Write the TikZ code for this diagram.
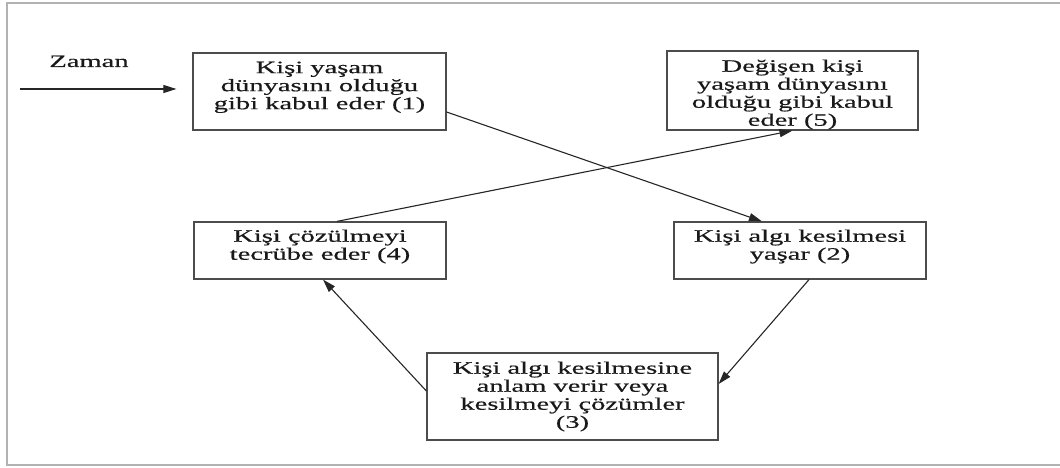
\documentclass[tikz,border=0pt]{standalone}
\usepackage{fontspec}
\setmainfont{Liberation Serif}[FakeStretch=1.63, FakeBold=0.5]
\usetikzlibrary{arrows.meta}

\begin{document}
\begin{tikzpicture}[x=1pt, y=1pt,
    box/.style={draw=black!70, line width=1.2pt, inner sep=0pt},
    txt/.style={align=center, inner sep=0pt, text=black!90, font=\fontsize{17.5}{18}\selectfont},
    link/.style={->, draw=black!85, line width=1.1pt},
    >={Triangle[length=13pt, width=8pt]}]
    \useasboundingbox (0,0) rectangle (1060,468);
    % frame
    \draw [gray!60, line width=1.4pt] (1060,465) -- (7,465) -- (7,3) -- (1060,3);

    % boxes
    \node [box, minimum width=253pt, minimum height=77pt] (b1) at (319.5,376.5) {};
    \node [box, minimum width=251pt, minimum height=79pt] (b5) at (792.5,377.5) {};
    \node [box, minimum width=252pt, minimum height=57pt] (b4) at (320,217.5) {};
    \node [box, minimum width=252pt, minimum height=57pt] (b2) at (800,217.5) {};
    \node [box, minimum width=291pt, minimum height=87pt] (b3) at (572.5,71.5) {};

    % texts
    \node [txt, anchor=north] (t1) at ([yshift=-9pt]b1.north) {Kişi yaşam\\dünyasını olduğu\\gibi kabul eder (1)};
    \node [txt, anchor=north] (t5) at ([yshift=-9pt]b5.north) {Değişen kişi\\yaşam dünyasını\\olduğu gibi kabul\\eder (5)};
    \node [txt, anchor=north] (t4) at ([yshift=-8pt]b4.north) {Kişi çözülmeyi\\tecrübe eder (4)};
    \node [txt, anchor=north] (t2) at ([yshift=-8pt]b2.north) {Kişi algı kesilmesi\\yaşar (2)};
    \node [txt, anchor=north] (t3) at ([yshift=-9pt]b3.north) {Kişi algı kesilmesine\\anlam verir veya\\kesilmeyi çözümler\\(3)};
    \node [txt, anchor=base] (zaman) at (89,401) {Zaman};

    % arrows
    \coordinate (start) at (20,379);
    \draw [link] (start) -- ([shift={(-16pt,2.5pt)}]b1.west);
    \draw [link] ([yshift=-20.5pt]b1.east) -- ([xshift=-38pt]b2.north);
    \draw [link] ([xshift=9pt]b2.south) -- ([yshift=12.5pt]b3.east);
    \draw [link] ([yshift=5.5pt]b3.west) -- ([xshift=3pt]b4.south);
    \draw [link] ([xshift=17pt]b4.north) -- (b5.south);
\end{tikzpicture}
\end{document}
